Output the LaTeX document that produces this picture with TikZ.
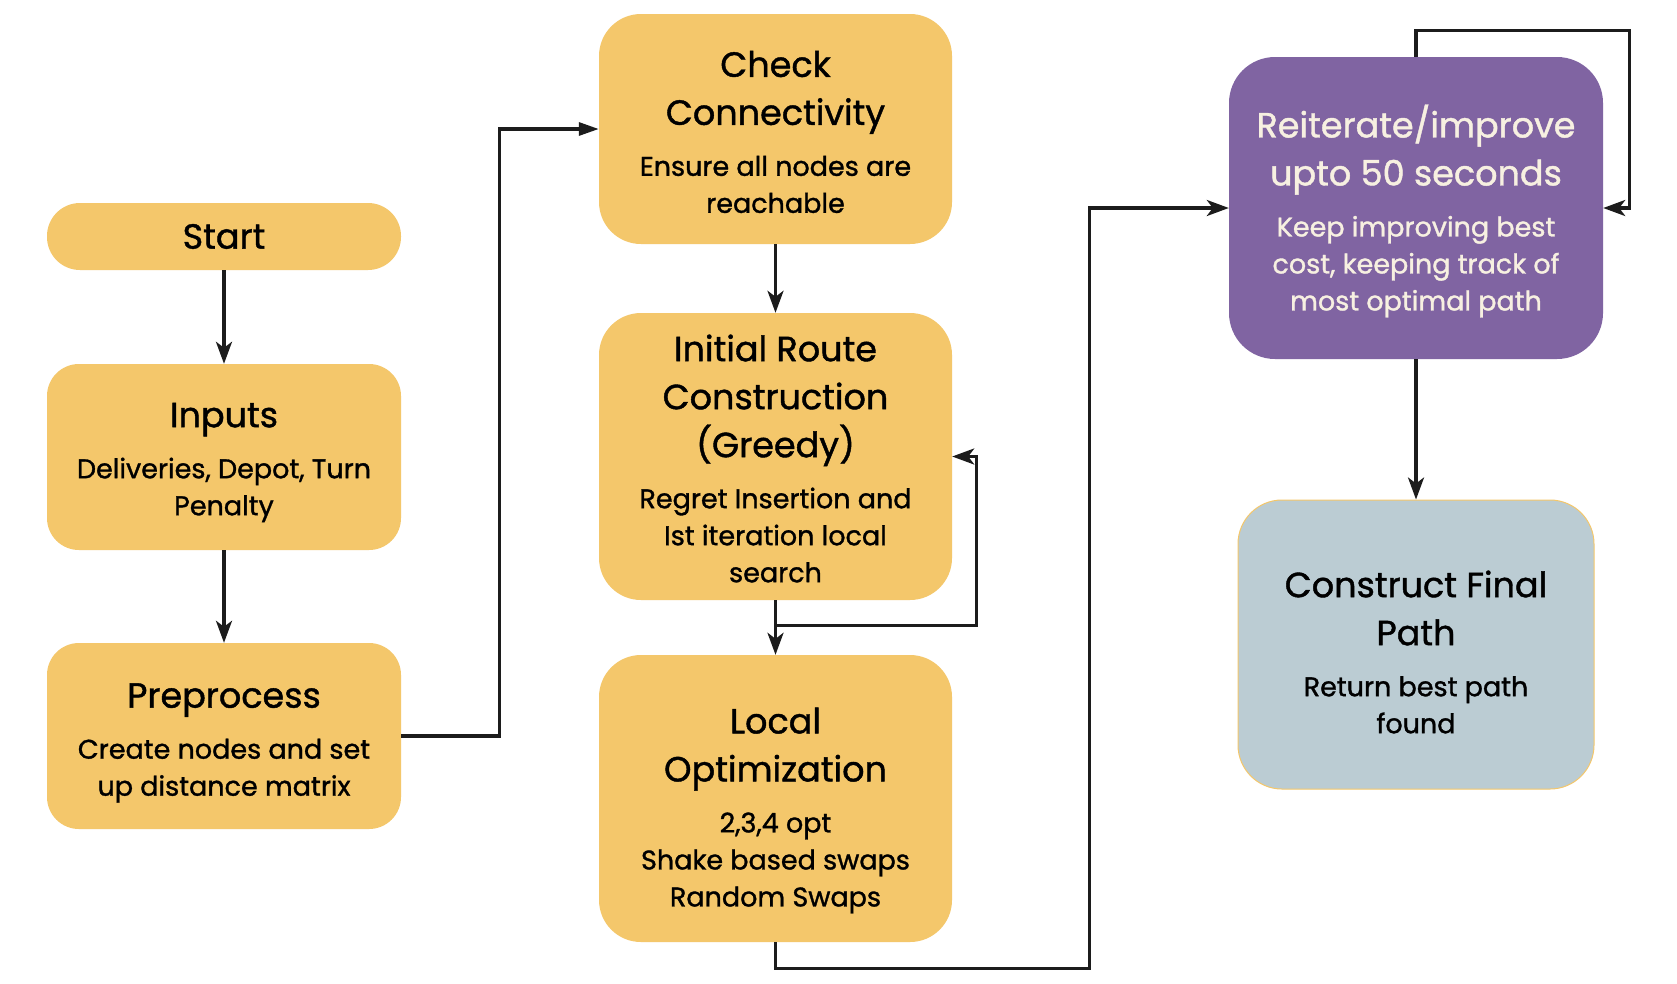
\documentclass[tikz,border=0pt]{standalone}
\usepackage{fontspec}
\setmainfont{Poppins}[FakeBold=1.2]
\usetikzlibrary{arrows.meta,calc}
\definecolor{boxyellow}{HTML}{F4C76B}
\definecolor{boxpurple}{HTML}{8064A2}
\definecolor{boxgrey}{HTML}{BBCCD3}
\definecolor{creamtext}{HTML}{F7F0E1}
\definecolor{linecol}{HTML}{1C1C1C}
\newcommand\sbt{\fontsize{27}{37}\selectfont}
\tikzset{
  stepbox/.style={rectangle, rounded corners=42pt, fill=boxyellow, inner sep=0pt},
  boxtext/.style={inner sep=0pt, align=center, font=\fontsize{35}{48}\selectfont, text=black},
  conn/.style={draw=linecol, line width=3.2pt, -{Stealth[length=22pt,width=16pt,inset=6pt]}},
  connt/.style={draw=linecol, line width=3.2pt, -{Triangle[length=20pt,width=13pt]}},
}
\begin{document}
\begin{tikzpicture}[x=1pt,y=-1pt]
\useasboundingbox[fill=white] (0,0) rectangle (1677,983);
\node[stepbox, rounded corners=33pt, minimum width=354pt, minimum height=67pt] (start) at (224,236.5) {};
\node[boxtext] (starttxt) at (start.center) {Start};
\node[stepbox, rounded corners=32pt, minimum width=354pt, minimum height=186pt] (inputs) at (224,457) {};
\node[boxtext] (inputstxt) at ([yshift=-5.5pt]inputs.center)
  {Inputs\\[3pt]\sbt Deliveries, Depot, Turn\\[-11pt]\sbt Penalty};
\node[stepbox, rounded corners=32pt, minimum width=354pt, minimum height=186pt] (prep) at (224,736) {};
\node[boxtext] (preptxt) at ([yshift=-7pt]prep.center)
  {Preprocess\\[3pt]\sbt Create nodes and set\\[-11pt]\sbt up distance matrix};
\node[stepbox, minimum width=353pt, minimum height=230pt] (check) at (775.5,129) {};
\node[boxtext] (checktxt) at ([yshift=-3pt]check.center)
  {Check\\Connectivity\\[3pt]\sbt Ensure all nodes are\\[-11pt]\sbt reachable};
\node[stepbox, minimum width=353pt, minimum height=287pt] (init) at (775.5,456.5) {};
\node[boxtext] (inittxt) at ([yshift=-2pt]init.center)
  {Initial Route\\Construction\\(Greedy)\\[3pt]\sbt Regret Insertion and\\[-11pt]\sbt Ist iteration local\\[-11pt]\sbt search};
\node[stepbox, minimum width=353pt, minimum height=287pt] (local) at (775.5,798.5) {};
\node[boxtext] (localtxt) at ([yshift=-12pt]local.center)
  {Local\\Optimization\\[3pt]\sbt 2,3,4 opt\\[-11pt]\sbt Shake based swaps\\[-11pt]\sbt Random Swaps};
\node[stepbox, rounded corners=46pt, fill=boxpurple, minimum width=374pt, minimum height=302pt] (reit) at (1416,208) {};
\node[boxtext, text=creamtext] (reittxt) at ([yshift=-3pt]reit.center)
  {Reiterate/improve\\upto 50 seconds\\[3pt]\sbt Keep improving best\\[-11pt]\sbt cost, keeping track of\\[-11pt]\sbt most optimal path};
\node[stepbox, rounded corners=44pt, fill=boxgrey, draw=boxyellow, line width=1pt, minimum width=356pt, minimum height=289pt] (final) at (1416,644.5) {};
\node[boxtext] (finaltxt) at ([yshift=-7.5pt]final.center)
  {Construct Final\\Path\\[3pt]\sbt Return best path\\[-11pt]\sbt found};
% connectors
\draw[conn] (start) -- (inputs);
\draw[conn] (inputs) -- (prep);
\draw[connt] (prep.east) -- ++(98,0) |- (check.west);
\draw[conn] (check) -- (init);
\draw[conn] (init.south) -- (local.north);
\draw[conn] (init.south) -- ++(0,25) -| ([xshift=24pt]init.east) -- (init.east);
\draw[conn] (local.south) -- ++(0,26) -| ([xshift=-139pt]reit.west) -- (reit.west);
\draw[conn] (reit.north) -- ++(0,-26) -| ([xshift=26pt]reit.east) -- (reit.east);
\draw[conn] (reit) -- (final);
\end{tikzpicture}
\end{document}
